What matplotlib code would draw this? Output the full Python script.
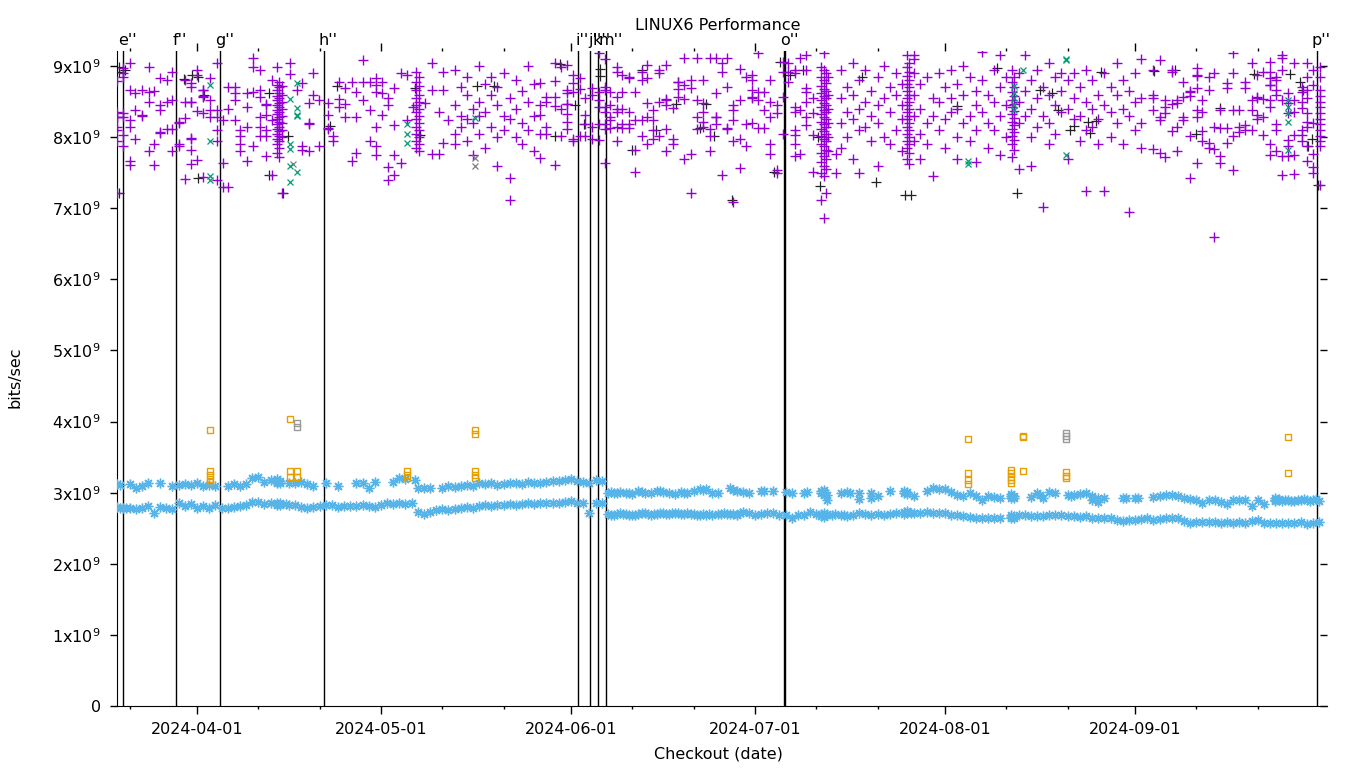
import matplotlib
matplotlib.use("Agg")
import matplotlib.pyplot as plt
import matplotlib.dates as mdates
from datetime import datetime

# x: days after 2024-03-19 00:00, y: bits/sec in units of 1e9
START = datetime(2024, 3, 19)

purple_pts = [
    (0.0, [8.79, 8.35, 8.28, 8.28, 8.14, 8.10, 7.95, 7.21]),
    (1.0, [8.97, 8.90, 8.85, 8.34, 8.29, 8.03, 7.87]),
    (2.0, [9.05, 8.66, 8.24, 8.15, 7.66, 7.61]),
    (2.9, [8.62, 8.38, 7.98]), (4.1, [8.66, 8.30, 8.31]),
    (5.1, [8.98, 8.64, 8.50, 7.80]), (6.0, [8.65, 7.91, 7.61]),
    (7.0, [8.83, 8.45, 8.38, 8.06, 8.07]), (8.1, [8.81, 8.50, 8.12]),
    (8.9, [8.91, 8.52, 8.11, 7.81]), (10.1, [8.20, 8.21, 7.91, 7.88]),
    (11.0, [8.80, 8.50, 8.27, 7.41]),
    (12.0, [8.76, 8.71, 8.49, 8.50, 7.98, 7.99, 7.82, 7.62]),
    (13.0, [8.94, 8.87, 8.37, 7.68]), (13.9, [8.66, 8.67, 8.57, 8.58, 8.34, 7.44]),
    (15.1, [8.83, 8.52, 8.38, 8.29]), (16.2, [9.04, 8.38, 8.29, 8.10, 7.94, 7.40]),
    (17.2, [8.24, 7.63, 7.30]), (18.1, [8.71, 8.39, 7.30]),
    (19.2, [8.71, 8.62, 8.52, 8.24]), (20.0, [8.10, 8.01, 7.91, 7.80]),
    (21.1, [8.62, 8.43, 8.15, 7.66]), (22.2, [9.11, 8.99, 8.64, 7.87]),
    (23.2, [8.95, 8.66, 8.57, 8.29, 8.15, 8.01]),
    (24.2, [8.45, 8.46, 8.31, 8.10, 8.01, 7.73]), (25.2, [8.80, 8.24, 7.47]),
    (26.0, [8.99, 8.74, 8.66, 8.58, 8.52, 8.45, 8.38, 8.32, 8.25, 8.18, 8.12, 8.05, 7.98, 7.91, 7.78]),
    (26.4, [8.78, 8.70, 8.62, 8.55, 8.48, 8.42, 8.35, 8.28, 8.22, 8.15, 8.08, 8.02, 7.95, 7.85, 7.72]),
    (26.8, [8.72, 8.60, 8.50, 8.40, 8.30, 8.20, 8.10, 8.00, 7.21]),
    (28.2, [9.05, 8.89]), (29.3, [8.66]), (30.1, [8.76, 7.87, 7.82]),
    (31.2, [8.48, 8.19, 8.20, 7.80]), (32.0, [8.90, 8.59]), (32.9, [8.52, 7.87]),
    (34.4, [8.48, 8.31, 8.12, 8.13]), (35.2, [8.01, 7.94]),
    (36.2, [8.78, 8.54, 8.43]), (37.1, [8.69, 8.46, 8.29]), (38.2, [8.77, 7.66]),
    (39.0, [8.63, 8.29, 7.78]), (40.1, [9.09, 8.78, 8.52]), (41.2, [8.78, 8.38, 7.94]),
    (42.2, [8.83, 8.73, 8.63, 8.15, 7.88, 7.75]), (43.1, [8.78, 8.62, 8.31]),
    (44.2, [8.55, 8.45, 7.58, 7.40]), (45.1, [8.69, 8.17, 7.75, 7.47]),
    (46.3, [8.90, 7.63]), (47.3, [8.88, 8.24]), (48.3, [8.43]),
    (48.8, [8.92, 8.78, 8.66, 8.55, 8.45, 8.35, 8.25, 8.15, 8.05, 7.95, 7.85]),
    (49.2, [8.85, 8.72, 8.60, 8.50, 8.40, 8.30, 8.20, 8.10, 8.00, 7.90, 7.80]),
    (50.2, [8.48]), (51.3, [9.04, 8.66, 7.77]), (52.4, [8.35, 7.77]),
    (53.2, [8.92, 8.66, 7.92]), (54.0, [8.24]),
    (55.0, [8.95, 8.45, 8.05, 7.90]), (56.0, [8.70, 8.30, 8.15]),
    (57.0, [8.85, 8.60, 8.25, 7.95]), (58.0, [8.40, 8.20, 7.75]),
    (59.0, [9.00, 8.50, 8.30, 8.05]), (60.0, [8.75, 8.35, 7.85]),
    (61.0, [8.85, 8.60, 8.15]), (62.0, [8.70, 8.45, 8.00, 7.60]),
    (63.0, [8.90, 8.30, 8.10]), (64.0, [8.55, 8.25, 7.42, 7.12]),
    (65.0, [8.80, 8.40, 8.00]), (66.0, [8.65, 8.20, 7.90]),
    (67.0, [9.00, 8.50, 8.10]), (68.0, [8.75, 8.30, 7.80]),
    (69.0, [8.76, 8.45, 8.31, 8.05, 7.71]), (70.0, [8.57, 8.50, 8.15, 8.05]),
    (71.4, [9.05, 8.79, 8.57, 8.44, 7.61]), (72.4, [8.99, 8.39, 8.02]),
    (73.3, [9.02, 8.66, 8.62, 8.46, 8.47, 8.32, 8.22, 8.12]),
    (74.4, [8.87, 8.76, 8.64, 7.98, 7.94]), (75.4, [8.83, 8.68, 8.02]),
    (76.3, [8.55, 8.31, 8.18, 8.01]), (77.4, [8.69, 8.59, 8.15, 7.98]),
    (78.5, [9.19, 8.64, 8.52, 8.43, 8.18, 7.96]),
    (79.5, [9.10, 8.71, 8.66, 8.43, 8.36, 8.18, 8.11, 7.63]),
    (80.4, [8.64, 8.45, 8.29, 8.24, 8.13]),
    (81.5, [8.99, 8.92, 8.57, 8.40, 8.36, 8.15, 7.95]),
    (82.4, [8.87, 8.64, 8.40, 8.18, 8.13]), (83.5, [8.83, 8.84, 8.36, 8.18, 8.13]),
    (84.4, [8.64, 8.24, 7.82, 7.51]), (85.5, [8.92, 8.80, 8.24, 8.01]),
    (86.4, [9.02, 8.83, 8.48, 8.29, 7.91]), (87.4, [8.38, 8.24, 8.10, 7.98]),
    (88.4, [8.94, 8.90, 8.50, 8.01]), (89.5, [9.02, 8.52, 8.53, 8.45, 8.12, 7.81]),
    (90.6, [8.41, 7.98, 7.91]), (91.5, [8.77, 8.78, 8.68, 8.56]),
    (92.4, [9.11, 8.73, 8.54, 7.70]), (93.5, [8.80, 8.69, 7.77, 7.21]),
    (94.5, [9.11, 8.52, 8.29, 8.12]), (95.6, [8.80, 8.48, 8.36, 8.22, 8.15]),
    (96.7, [9.11, 8.12, 8.02, 7.80]), (97.7, [9.11, 8.62, 8.28, 8.29, 8.18]),
    (98.6, [9.04, 8.92, 7.47]), (99.5, [9.12, 8.70, 8.12, 8.13]),
    (100.5, [8.45, 8.38, 8.24, 7.94, 7.09]), (101.6, [8.96, 8.52, 7.98, 7.56]),
    (102.5, [8.85, 8.18, 7.87]), (103.5, [8.87, 8.80, 8.66, 8.55, 8.56, 8.20]),
    (104.5, [9.18, 8.64, 8.52, 8.13]), (105.5, [8.64, 8.38, 8.13]),
    (106.5, [8.80, 8.50, 8.29, 7.91, 7.77]), (107.6, [8.45, 8.34, 7.54, 7.49]),
    (108.5, [9.06, 8.92, 8.57, 8.05]), (109.4, [9.04, 8.92, 8.78]),
    (110.5, [8.94, 8.90, 8.43, 8.36, 8.10, 8.03, 7.91, 7.73]),
    (111.4, [9.11, 8.38, 7.77]), (112.4, [9.16, 8.94, 8.69, 8.64, 8.50, 8.29, 8.17]),
    (113.5, [8.55, 8.34, 8.03, 7.51]),
    (114.8, [8.99, 8.85, 8.72, 8.62, 8.52, 8.42, 8.32, 8.22, 8.12, 8.02, 7.91, 7.78, 7.65, 7.50, 7.12]),
    (115.2, [9.19, 8.95, 8.80, 8.68, 8.58, 8.48, 8.38, 8.28, 8.18, 8.08, 7.98, 7.87, 7.74, 7.60, 7.45, 6.86]),
    (115.6, [8.90, 8.76, 8.65, 8.55, 8.45, 8.35, 8.25, 8.15, 8.05, 7.95, 7.82, 7.70, 7.55, 7.22]),
    (116.0, [8.85, 8.60, 8.40, 8.20, 8.00, 7.80]),
    (117.3, [7.77, 7.49]),
    (118.0, [8.95, 8.55, 8.20, 7.85]), (119.0, [8.70, 8.35, 8.00]),
    (120.0, [9.05, 8.60, 8.25, 7.70]), (121.0, [8.80, 8.40, 8.10, 7.50]),
    (122.0, [8.95, 8.50, 8.15]), (123.0, [8.65, 8.30, 7.95]),
    (124.0, [8.85, 8.45, 8.20, 7.60]), (125.0, [9.00, 8.55, 8.00]),
    (126.0, [8.70, 8.35, 7.90]), (127.0, [8.90, 8.60, 8.10]),
    (128.0, [8.75, 8.45, 8.25, 7.80]),
    (128.8, [9.15, 8.98, 8.86, 8.75, 8.65, 8.55, 8.45, 8.35, 8.25, 8.15, 8.05, 7.95, 7.85, 7.70]),
    (129.2, [9.05, 8.92, 8.80, 8.70, 8.60, 8.50, 8.40, 8.30, 8.20, 8.10, 8.00, 7.90, 7.78, 7.62]),
    (130.0, [9.15, 9.10, 8.90, 8.60, 8.30, 7.95]), (131.0, [8.75, 8.40, 8.05, 7.70]),
    (132.0, [8.85, 8.20, 7.90]), (133.0, [8.55, 8.30, 7.45]),
    (134.0, [8.90, 8.50, 8.10]), (135.0, [8.70, 8.25, 7.85]),
    (136.0, [8.95, 8.55, 8.35]), (137.0, [8.75, 8.40, 8.00, 7.70]),
    (138.0, [9.00, 8.60, 8.20]), (139.0, [8.85, 8.30, 7.95]),
    (140.0, [8.65, 8.45, 8.10, 7.65]), (141.0, [9.20, 8.80, 8.35]),
    (142.0, [8.60, 8.20, 7.85]), (143.0, [8.95, 8.50, 8.10]),
    (144.0, [9.15, 8.70, 8.30, 7.75]), (145.0, [8.85, 8.45, 8.00]),
    (145.9, [8.95, 8.78, 8.64, 8.52, 8.42, 8.32, 8.22, 8.12, 8.02, 7.90, 7.72]),
    (146.3, [8.85, 8.70, 8.58, 8.47, 8.37, 8.27, 8.17, 8.07, 7.96, 7.82]),
    (147.0, [8.90, 8.50, 8.20, 7.55]), (148.0, [9.15, 8.65, 8.30]),
    (149.0, [8.80, 8.40, 8.00, 7.60]), (150.0, [8.95, 8.55, 8.15]),
    (151.0, [8.70, 8.30, 7.02]), (152.0, [9.05, 8.60, 8.20, 7.90]),
    (153.0, [8.85, 8.45, 8.05]), (154.0, [8.65, 8.35, 8.90]),
    (155.0, [8.80, 8.40, 7.70]), (156.0, [8.90, 8.55, 8.25]),
    (157.0, [8.70, 8.30, 7.95]), (158.0, [8.95, 8.50, 8.10, 7.25]),
    (159.0, [8.80, 8.40, 8.15]), (160.0, [8.60, 8.25, 7.90]),
    (161.0, [8.90, 8.45, 7.25]), (162.0, [8.70, 8.35, 8.00]),
    (163.0, [9.05, 8.60, 8.20]), (164.0, [8.80, 8.40, 7.90]),
    (165.0, [8.65, 8.30, 6.95]), (166.0, [8.90, 8.50, 8.10]),
    (167.0, [9.10, 8.55, 8.20, 7.85]),
    (169.0, [8.95, 8.59, 8.55, 8.38, 7.84]), (170.0, [9.09, 8.29, 8.24, 7.78]),
    (170.9, [8.52, 8.43, 8.34, 7.72]), (172.0, [8.94, 8.91, 8.47, 8.08]),
    (172.9, [8.52, 8.48, 8.15, 7.80]), (173.9, [8.78, 8.57, 8.29, 8.24]),
    (174.9, [8.64, 8.65, 8.58, 8.01, 7.42]),
    (176.1, [8.97, 8.86, 8.87, 8.69, 8.38, 8.29, 7.63]),
    (177.0, [8.52, 8.36, 8.08, 7.94]), (178.0, [8.85, 8.66, 7.92, 7.85]),
    (178.9, [8.90, 8.15, 7.84, 6.60]), (179.9, [8.38, 8.13, 7.73, 7.63]),
    (181.0, [8.76, 8.69, 8.13, 7.92]), (182.0, [9.19, 8.90, 8.38, 8.01, 7.54]),
    (183.0, [8.38, 8.15, 8.07]), (183.9, [8.78, 8.69, 8.17, 8.10]),
    (185.0, [9.04, 8.52, 8.38, 8.10]), (185.9, [8.87, 8.57, 8.55, 8.31, 8.25]),
    (186.9, [8.92, 8.53, 8.29, 8.03]),
    (188.0, [9.06, 8.92, 8.83, 8.73, 8.74, 8.52, 8.43, 7.90, 7.75]),
    (189.0, [8.85, 8.80, 8.66, 8.59, 8.19, 8.10, 7.80]),
    (189.9, [9.16, 9.11, 8.95, 8.52, 7.73, 7.47]),
    (191.0, [8.62, 8.48, 8.34, 7.96, 7.87, 7.73]),
    (191.9, [9.04, 8.52, 8.36, 8.03, 7.75, 7.48]),
    (193.2, [8.71, 8.64, 8.50, 8.41, 8.10, 8.03, 7.94]),
    (194.1, [9.04, 8.85, 8.66, 8.55, 8.34, 8.22, 8.15, 7.87, 7.66]),
    (195.1, [8.94, 8.73, 8.20, 7.77, 7.58, 7.50]),
    (196.1, [8.99, 8.85, 8.66, 8.58, 8.50, 8.42, 8.34, 8.26, 8.18, 8.10, 8.02, 7.94, 7.87, 7.33]),
]

black_pts = [
    (0.3, [8.99, 8.92, 7.22]), (1.2, [8.95]), (10.8, [8.82]), (12.2, [8.87]),
    (13.1, [8.85, 7.43]), (14.1, [8.59]), (24.8, [8.62, 7.47]), (27.0, [7.21]),
    (27.8, [8.02]), (34.7, [8.16]), (35.9, [8.72]), (48.6, [8.69]), (49.4, [8.03]),
    (58.7, [8.72]), (61.5, [8.72]), (71.4, [8.02]), (72.2, [9.03]), (74.6, [8.45]),
    (76.1, [8.19]), (78.7, [8.96, 8.86]), (84.0, [7.82]), (85.6, [8.94]),
    (87.9, [8.10]), (91.1, [8.47]), (95.0, [8.13]), (96.0, [8.47]), (97.3, [8.01]),
    (100.2, [7.12]), (107.1, [7.51]), (108.1, [9.06]), (109.7, [8.87]),
    (111.8, [8.94]), (114.3, [8.00]), (114.6, [7.31]), (121.5, [8.85]),
    (123.8, [7.37]), (128.5, [7.19]), (129.5, [7.19]), (137.0, [8.44]),
    (143.5, [8.97]), (146.7, [7.22]), (150.5, [8.66]), (152.5, [8.62]),
    (153.4, [8.38]), (155.4, [8.10]), (156.0, [8.16]), (158.4, [8.21]),
    (158.7, [8.06]), (159.6, [8.23]), (160.5, [8.92]), (169.1, [8.93]),
    (172.5, [8.95]), (176.0, [8.04]), (179.9, [8.41]), (185.4, [8.89]),
    (191.2, [8.89]), (192.9, [8.78]), (193.4, [8.66]), (194.2, [7.88]),
    (194.9, [7.97]), (195.8, [7.33]),
]

teal_pts = [
    (15.1, [8.73, 7.95, 7.46, 7.40]), (28.2, [8.54, 7.91, 7.83, 7.60, 7.37]),
    (29.3, [8.76, 8.41, 8.30, 8.31, 7.51]), (47.3, [8.18, 8.05, 7.92]),
    (58.3, [8.27]), (138.8, [7.62, 7.67]), (146.3, [8.72, 8.62, 8.55, 8.45, 8.38]),
    (147.7, [8.95]), (154.7, [9.10, 9.08, 7.75]), (191.0, [8.52, 8.43, 8.34, 8.22, 7.82]),
]

grayx_pts = [(28.6, [7.62]), (58.3, [7.71, 7.60])]

band_hi = [
    (0, [3.12]), (0.5, [3.11]), (2, [3.12]), (3, [3.07]), (4, [3.09]), (5, [3.14]),
    (7, [3.14]), (9, [3.09]), (10, [3.11]), (11, [3.12]), (12, [3.11]), (13, [3.14]),
    (14, [3.09]), (15, [3.11]), (16, [3.09]), (18, [3.09]), (19, [3.12]), (20, [3.09]),
    (21, [3.12]), (22, [3.20]), (23, [3.22]), (24, [3.15]), (25, [3.18]),
    (26, [3.13, 3.15, 3.17, 3.19]), (26.6, [3.14, 3.16]), (28, [3.13]), (29, [3.14]),
    (30, [3.15]), (31, [3.12]), (32, [3.09]), (34, [3.14]), (36, [3.09]), (39, [3.14]),
    (40, [3.13]), (41, [3.07]), (42, [3.15]), (45, [3.15]), (46, [3.21]), (47, [3.19]),
    (48.6, [3.18]), (49, [3.07]), (50, [3.06]), (51, [3.06]), (53, [3.07]), (54, [3.09]),
    (55, [3.08]), (56, [3.10]), (57, [3.11]), (58, [3.10]), (59, [3.13]), (60, [3.12]),
    (61, [3.14]), (62, [3.11]), (63, [3.12]), (64, [3.13]), (65, [3.14]), (66, [3.12]),
    (67, [3.15]), (68, [3.13]), (69, [3.14]), (70, [3.15]), (71, [3.17]), (72, [3.16]),
    (73, [3.18]), (74, [3.19]), (75, [3.17]), (76, [3.15]), (77, [3.13]), (78, [3.18]),
    (79, [3.16]), (80, [3.00]), (80.5, [3.01]), (81, [2.99]), (81.5, [3.00]),
    (82, [3.01]), (83, [3.00]), (83.5, [2.99]), (84, [2.98]), (85, [3.02]),
    (85.5, [3.01]), (86, [3.00]), (87, [2.99]), (88, [3.03]), (88.5, [3.02]),
    (89, [3.01]), (90, [3.00]), (91, [2.98]), (92, [3.01]), (92.5, [3.00]),
    (93, [3.00]), (94, [3.02]), (95, [3.05]), (95.5, [3.04]), (96, [3.05]),
    (97, [3.00]), (98, [3.00]), (100, [3.06]), (100.5, [3.04]), (101, [3.03]),
    (102, [3.01]), (103, [3.00]), (105, [3.03]), (105.5, [3.02]), (107, [3.03]),
    (109, [3.01]), (110, [3.00]), (112, [3.00]), (112.5, [3.01]),
    (114.8, [3.03, 3.00]), (115.3, [3.04, 3.01, 2.97]), (115.8, [2.97, 2.90]),
    (118, [2.99]), (119, [3.01]), (119.5, [3.00]), (121, [2.99, 2.91]),
    (123, [2.99, 2.92]), (124, [2.95]), (126, [3.03]), (128.3, [3.03, 3.00]),
    (128.8, [3.01, 2.98]), (130, [2.95]), (132, [3.03]), (133, [3.06]), (134, [3.05]),
    (135, [3.05]), (136, [3.01]), (137, [2.97]), (138, [2.96]), (139, [2.99]),
    (140, [2.95]), (141, [2.90]), (142, [2.95]), (143, [2.94]), (144, [2.92]),
    (145.8, [2.98, 2.95, 2.92]), (146.3, [2.96, 2.93]), (149, [2.94]),
    (150, [2.99]), (150.5, [2.97]), (151, [2.93]), (152, [3.01]), (153, [2.99]),
    (155, [2.97]), (155.5, [2.96]), (156, [2.97]), (157, [2.98]), (158, [3.00]),
    (159, [2.95, 2.90]), (160, [2.93, 2.87]), (161, [2.92]), (164, [2.92]),
    (164.5, [2.93]), (166, [2.92]), (166.5, [2.93]), (169, [2.94]), (170, [2.95]),
    (171, [2.97]), (172, [2.97]), (173, [2.95]), (174, [2.93]), (175, [2.91]),
    (176, [2.90]), (177, [2.85]), (178, [2.90]), (179, [2.90]), (180, [2.87]),
    (181, [2.84]), (182, [2.90]), (183, [2.90]), (184, [2.90]), (185, [2.81]),
    (186, [2.90]), (187, [2.84]), (188.8, [2.88, 2.90, 2.92]), (189.4, [2.90, 2.91]),
    (190, [2.89]), (190.5, [2.90]), (191, [2.90]), (191.5, [2.89]), (192, [2.89]),
    (192.5, [2.90]), (193, [2.90]), (193.5, [2.91]), (194, [2.90]), (194.5, [2.89]),
    (195, [2.90]), (195.5, [2.91]), (196, [2.89]),
]

band_lo = [
    (0, [2.80]), (0.5, [2.79]), (1, [2.78]), (1.5, [2.79]), (2, [2.78]), (3, [2.77]),
    (4, [2.78]), (5, [2.81]), (6, [2.72]), (7, [2.80]), (8, [2.79]), (9, [2.77]),
    (10, [2.85]), (11, [2.81]), (12, [2.84]), (13, [2.78]), (14, [2.81]), (15, [2.78]),
    (16, [2.83]), (17, [2.78]), (18, [2.79]), (19, [2.80]), (20, [2.81]), (21, [2.83]),
    (22, [2.87]), (23, [2.87]), (24, [2.84]), (25, [2.85]), (26, [2.82, 2.84, 2.86]),
    (26.6, [2.83, 2.85]), (27.5, [2.84]), (28, [2.83]), (29, [2.83]), (30, [2.80]),
    (31, [2.78]), (32, [2.80]), (33, [2.81]), (34, [2.82]), (35, [2.83]), (36, [2.80]),
    (37, [2.81]), (38, [2.81]), (39, [2.81]), (40, [2.82]), (41, [2.81]), (42, [2.80]),
    (43, [2.83]), (44, [2.85]), (45, [2.84]), (46, [2.85]), (47, [2.84]), (48, [2.85]),
    (49, [2.73]), (50, [2.70]), (51, [2.73]), (52, [2.75]), (53, [2.77]), (54, [2.76]),
    (55, [2.77]), (56, [2.78]), (57, [2.80]), (58, [2.79]), (59, [2.81]), (60, [2.82]),
    (61, [2.81]), (62, [2.83]), (63, [2.82]), (64, [2.84]), (65, [2.83]), (66, [2.84]),
    (67, [2.85]), (68, [2.84]), (69, [2.86]), (70, [2.85]), (71, [2.86]), (72, [2.85]),
    (73, [2.87]), (74, [2.88]), (75, [2.86]), (76, [2.85]), (77, [2.72]), (78, [2.86]),
    (79, [2.85]), (80, [2.70]), (80.5, [2.69]), (81, [2.69]), (81.5, [2.70]),
    (82, [2.71]), (82.5, [2.70]), (83, [2.70]), (83.5, [2.69]), (84, [2.68]),
    (84.5, [2.69]), (85, [2.70]), (85.5, [2.71]), (86, [2.71]), (86.5, [2.70]),
    (87, [2.69]), (87.5, [2.70]), (88, [2.70]), (88.5, [2.71]), (89, [2.71]),
    (89.5, [2.70]), (90, [2.70]), (90.5, [2.71]), (91, [2.72]), (91.5, [2.71]),
    (92, [2.70]), (92.5, [2.70]), (93, [2.71]), (93.5, [2.70]), (94, [2.70]),
    (94.5, [2.69]), (95, [2.69]), (95.5, [2.70]), (96, [2.69]), (96.5, [2.70]),
    (97, [2.69]), (98, [2.70]), (98.5, [2.70]), (99, [2.71]), (99.5, [2.70]),
    (100, [2.70]), (100.5, [2.70]), (101, [2.69]), (101.5, [2.71]), (102, [2.73]),
    (103, [2.71]), (104, [2.69]), (105, [2.70]), (106, [2.71]), (107, [2.71]),
    (108, [2.69]), (109, [2.68]), (110, [2.65]), (111, [2.68]), (112, [2.69]),
    (113, [2.73]), (114, [2.70]), (114.8, [2.67, 2.70]), (115.3, [2.66, 2.69, 2.72]),
    (115.8, [2.68, 2.70]), (116.5, [2.69]), (117, [2.70]), (118, [2.69]),
    (118.5, [2.68]), (119, [2.67]), (120, [2.69]), (121, [2.71]), (122, [2.70]),
    (123, [2.69]), (124, [2.70]), (125, [2.69]), (126, [2.70]), (127, [2.71]),
    (128.3, [2.70, 2.73]), (128.8, [2.72, 2.74]), (129.5, [2.71]), (130, [2.72]),
    (131, [2.72]), (132, [2.73]), (133, [2.72]), (134, [2.72]), (135, [2.71]),
    (136, [2.69]), (137, [2.68]), (138, [2.67]), (139, [2.66]), (140, [2.65]),
    (141, [2.65]), (142, [2.64]), (143, [2.65]), (144, [2.65]),
    (145.8, [2.64, 2.66, 2.68]), (146.3, [2.65, 2.67]), (147, [2.69]), (148, [2.68]),
    (149, [2.67]), (150, [2.67]), (151, [2.67]), (152, [2.68]), (153, [2.69]),
    (154, [2.68]), (155, [2.67]), (156, [2.67]), (157, [2.66]), (158, [2.67]),
    (159, [2.65]), (160, [2.64]), (161, [2.64]), (162, [2.64]), (163, [2.62]),
    (164, [2.60]), (165, [2.61]), (166, [2.62]), (167, [2.63]), (168, [2.64]),
    (169, [2.62]), (170, [2.63]), (171, [2.65]), (172, [2.64]), (173, [2.65]),
    (174, [2.60]), (175, [2.58]), (176, [2.59]), (177, [2.59]), (178, [2.59]),
    (179, [2.59]), (180, [2.58]), (181, [2.59]), (182, [2.58]), (183, [2.59]),
    (184, [2.58]), (185, [2.60]), (186, [2.62]), (187, [2.58]), (188, [2.58]),
    (189, [2.58]), (190, [2.58]), (191, [2.57]), (192, [2.58]), (193, [2.59]),
    (194, [2.56]), (195, [2.58]), (196, [2.59]),
]

orange_sq = [
    (15.1, [3.88, 3.30, 3.25, 3.19, 3.15]), (28.2, [4.04, 3.30, 3.22]),
    (29.3, [3.30, 3.22]), (47.3, [3.30, 3.25, 3.20]),
    (58.3, [3.88, 3.83, 3.30, 3.25, 3.20]), (138.8, [3.75, 3.27, 3.18, 3.12]),
    (145.8, [3.32, 3.28, 3.22, 3.18, 3.13]), (147.7, [3.80, 3.78, 3.30]),
    (154.8, [3.29, 3.23, 3.20]), (191.0, [3.78, 3.27]),
]
gray_sq = [(29.3, [3.98, 3.93]), (154.8, [3.84, 3.80, 3.76])]

# checkout markers: (label, days after start)
checkouts = [("e''", 0.98), ("f''", 9.53), ("g''", 16.80), ("h''", 33.76),
             ("i''", 75.19), ("j''", 77.15), ("k''", 78.36), ("m''", 79.76),
             ("", 108.69), ("o''", 108.95), ("p''", 195.73)]

yticks = [0, 1e9, 2e9, 3e9, 4e9, 5e9, 6e9, 7e9, 8e9, 9e9]
ytick_labels = ['0'] + ['%dx10$^{9}$' % i for i in range(1, 10)]


def flat(pts, d0):
    xs, ys = [], []
    for d, vals in pts:
        for v in vals:
            xs.append(d0 + d)
            ys.append(v * 1e9)
    return xs, ys


plt.rcParams['font.family'] = 'DejaVu Sans'
plt.rcParams['mathtext.fontset'] = 'dejavusans'
FS = 11.5

fig = plt.figure(figsize=(13.6, 7.68), dpi=100)
ax = fig.add_axes([117.3 / 1360, 62 / 768, (1326.7 - 117.3) / 1360, (706 - 51) / 768])
d0 = mdates.date2num(START)

for name, d in checkouts:
    ax.axvline(d0 + d, color='black', lw=1.0, zorder=1)
    if name:
        ax.annotate(name, xy=(d0 + d, 1.0), xycoords=('data', 'axes fraction'),
                    xytext=(3, 4.5), textcoords='offset points',
                    ha='center', va='baseline', fontsize=FS)

x, y = flat(black_pts, d0)
ax.plot(x, y, ls='none', marker='+', ms=6.5, mew=0.9, color='#222222', zorder=3)
x, y = flat(purple_pts, d0)
ax.plot(x, y, ls='none', marker='+', ms=6.5, mew=1.0, color='#9400d3', zorder=4)
x, y = flat(grayx_pts, d0)
ax.plot(x, y, ls='none', marker='x', ms=5, mew=0.9, color='#808080', zorder=5)
x, y = flat(teal_pts, d0)
ax.plot(x, y, ls='none', marker='x', ms=5, mew=0.9, color='#009e73', zorder=5)
x, y = flat(band_hi + band_lo, d0)
ax.plot(x, y, ls='none', marker=(8, 2, 0), ms=7, mew=1.0, color='#56b4e9', zorder=4)
x, y = flat(orange_sq, d0)
ax.plot(x, y, ls='none', marker='s', ms=5, mew=1.0, mfc='none', color='#e69f00', zorder=5)
x, y = flat(gray_sq, d0)
ax.plot(x, y, ls='none', marker='s', ms=5, mew=1.0, mfc='none', color='#999999', zorder=5)

ax.set_xlim(d0, d0 + 197.26)
ax.set_ylim(0, 9.212e9)
ax.xaxis.set_major_locator(mdates.MonthLocator(bymonth=range(4, 10)))
ax.xaxis.set_minor_locator(mdates.DayLocator(bymonthday=[11, 21]))
ax.xaxis.set_major_formatter(mdates.DateFormatter('%Y-%m-%d'))
ax.set_yticks(yticks)
ax.set_yticklabels(ytick_labels)

ax.spines['top'].set_visible(False)
ax.spines['right'].set_visible(False)
ax.tick_params(axis='x', which='major', top=True, direction='out', length=5.5,
               width=1, labelsize=FS, pad=6)
ax.tick_params(axis='x', which='minor', top=True, direction='out', length=2.5, width=1)
ax.tick_params(axis='y', which='major', direction='out', length=5, width=1,
               labelsize=FS, pad=7)

sec = ax.secondary_yaxis('right')
sec.set_yticks(yticks)
sec.set_yticklabels([''] * len(yticks))
sec.tick_params(direction='in', length=5, width=1)
sec.spines['right'].set_visible(False)

fig.text(718 / 1360, 1 - 25 / 768, 'LINUX6 Performance', ha='center', va='center', fontsize=FS)
fig.text(718 / 1360, 1 - 754 / 768, 'Checkout (date)', ha='center', va='center', fontsize=FS)
fig.text(15 / 1360, 1 - 377 / 768, 'bits/sec', ha='center', va='center', rotation=90, fontsize=FS)

fig.savefig('out.png', dpi=100)
